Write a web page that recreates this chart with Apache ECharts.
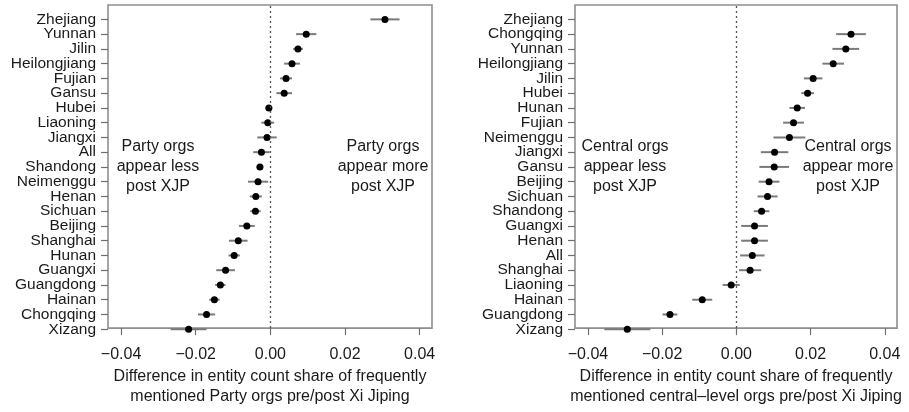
<!DOCTYPE html>
<html>
<head>
<meta charset="utf-8">
<script src="https://cdn.jsdelivr.net/npm/echarts@6/dist/echarts.min.js"></script>
<style>
  html, body { margin: 0; padding: 0; background: #fff; }
  #chart { width: 909px; height: 412px; }
</style>
</head>
<body>
<div id="chart"></div>
<script>
// Party organisations: provinces ordered top to bottom
const partyProvinces = ["Zhejiang", "Yunnan", "Jilin", "Heilongjiang", "Fujian", "Gansu", "Hubei", "Liaoning", "Jiangxi", "All", "Shandong", "Neimenggu", "Henan", "Sichuan", "Beijing", "Shanghai", "Hunan", "Guangxi", "Guangdong", "Hainan", "Chongqing", "Xizang"];
const partyDiff = [0.0307, 0.0096, 0.0074, 0.0058, 0.0042, 0.0037, -0.0004, -0.0007, -0.0009, -0.0024, -0.0028, -0.0033, -0.0039, -0.0040, -0.0063, -0.0086, -0.0097, -0.0120, -0.0134, -0.0150, -0.0171, -0.0219];
const partyErr = [0.0039, 0.0027, 0.0013, 0.0021, 0.0016, 0.0021, 0.0009, 0.0017, 0.0026, 0.0022, 0.0009, 0.0027, 0.0016, 0.0014, 0.0021, 0.0025, 0.0015, 0.0025, 0.0014, 0.0014, 0.0023, 0.0048];

// Central-level organisations (no estimate for Zhejiang)
const centralProvinces = ["Zhejiang", "Chongqing", "Yunnan", "Heilongjiang", "Jilin", "Hubei", "Hunan", "Fujian", "Neimenggu", "Jiangxi", "Gansu", "Beijing", "Sichuan", "Shandong", "Guangxi", "Henan", "All", "Shanghai", "Liaoning", "Hainan", "Guangdong", "Xizang"];
const centralDiff = [null, 0.0309, 0.0295, 0.0261, 0.0207, 0.0192, 0.0164, 0.0154, 0.0143, 0.0103, 0.0102, 0.0088, 0.0084, 0.0068, 0.0049, 0.0049, 0.0043, 0.0037, -0.0014, -0.0092, -0.0179, -0.0294];
const centralErr = [null, 0.0040, 0.0036, 0.0029, 0.0025, 0.0017, 0.0021, 0.0028, 0.0043, 0.0037, 0.0040, 0.0028, 0.0027, 0.0021, 0.0036, 0.0036, 0.0033, 0.0030, 0.0023, 0.0027, 0.0020, 0.0062];

const xTicks = [-0.04, -0.02, 0.00, 0.02, 0.04];
const xTitles = [
  "Difference in entity count share of frequently\nmentioned Party orgs pre/post Xi Jiping",
  "Difference in entity count share of frequently\nmentioned central\u2013level orgs pre/post Xi Jiping"
];

const FONT = '"Liberation Sans", Arial, Helvetica, sans-serif';
const TEXT = '#1a1a1a';
const TICK = { color: '#6e6e6e', width: 1.2 };
const X_MIN = -0.0435, X_MAX = 0.0433;

// Panel frames and the inner band holding one row per province
const PANELS = [{ left: 108, width: 324 }, { left: 575, width: 322 }];
const FRAME_TOP = 5, FRAME_H = 335;
const BAND_TOP = 12, BAND_H = 324.6;

function fmtTick(v) {
  const s = Math.abs(v).toFixed(2);
  return v < -1e-9 ? '\u2212' + s : s;
}

const grids = [], xAxes = [], yAxes = [];
PANELS.forEach((p, gi) => {
  // frame: border, x ticks, x labels, axis title, zero reference line
  grids.push({ left: p.left, top: FRAME_TOP, width: p.width, height: FRAME_H, show: true,
               borderColor: '#8f8f8f', borderWidth: 1.6 });
  xAxes.push({
    type: 'value', gridIndex: gi, min: X_MIN, max: X_MAX, position: 'bottom',
    axisLine: { show: false, onZero: false },
    splitLine: { show: false },
    axisTick: { show: true, length: 7, customValues: xTicks, lineStyle: TICK },
    axisLabel: { customValues: xTicks, formatter: fmtTick, fontFamily: FONT, fontSize: 16, color: TEXT, margin: 18,
                 showMinLabel: true, showMaxLabel: true },
    name: xTitles[gi], nameLocation: 'middle', nameGap: 36,
    nameTextStyle: { fontFamily: FONT, fontSize: 16, color: TEXT, lineHeight: 20, verticalAlign: 'top' }
  });
  yAxes.push({
    type: 'value', gridIndex: gi, min: 0, max: 1, show: false
  });
});
[partyProvinces, centralProvinces].forEach((cats, k) => {
  // rows: one category band per province
  const p = PANELS[k], gi = 2 + k;
  grids.push({ left: p.left, top: BAND_TOP, width: p.width, height: BAND_H, show: false });
  xAxes.push({ type: 'value', gridIndex: gi, show: false, min: X_MIN, max: X_MAX });
  yAxes.push({
    type: 'category', gridIndex: gi, data: cats, inverse: true, boundaryGap: true,
    axisLine: { show: false, onZero: false },
    axisTick: { show: true, length: 7, alignWithLabel: true, interval: 0, lineStyle: TICK },
    axisLabel: { interval: 0, fontFamily: FONT, fontSize: 15.5, color: TEXT, margin: 12 },
    splitLine: { show: false }
  });
});

function pointsData(vals, errs) {
  const out = [];
  vals.forEach((v, i) => { if (v !== null) out.push([v, i, errs[i]]); });
  return out;
}

function errorBars(gi, vals, errs) {
  return {
    type: 'custom', xAxisIndex: gi, yAxisIndex: gi, z: 2,
    data: pointsData(vals, errs),
    renderItem: (params, api) => {
      const v = api.value(0), i = api.value(1), e = api.value(2);
      const a = api.coord([v - e, i]);
      const b = api.coord([v + e, i]);
      return { type: 'line', shape: { x1: a[0], y1: a[1], x2: b[0], y2: b[1] },
               style: { stroke: '#7a7a7a', lineWidth: 2 } };
    },
    silent: true
  };
}

function points(gi, vals, errs) {
  return {
    type: 'scatter', xAxisIndex: gi, yAxisIndex: gi, z: 3,
    data: pointsData(vals, errs),
    symbol: 'circle', symbolSize: 7,
    itemStyle: { color: '#000', opacity: 1 },
    silent: true
  };
}

function zeroLine(gi) {
  return {
    type: 'scatter', xAxisIndex: gi, yAxisIndex: gi, z: 1, data: [], silent: true,
    markLine: {
      silent: true, symbol: 'none',
      label: { show: false },
      lineStyle: { type: [2, 3], color: '#555', width: 1.3 },
      data: [{ xAxis: 0 }]
    }
  };
}

function note(cx, top, lines) {
  return { type: 'text', x: cx, y: top, z: 10,
    style: { text: lines.join('\n'), fontFamily: FONT, fontSize: 16, lineHeight: 20, fill: TEXT,
             align: 'center', verticalAlign: 'top' } };
}

const chart = echarts.init(document.getElementById('chart'), null, { renderer: 'canvas' });
chart.setOption({
  animation: false,
  backgroundColor: '#fff',
  grid: grids,
  xAxis: xAxes,
  yAxis: yAxes,
  series: [
    zeroLine(0), zeroLine(1),
    errorBars(2, partyDiff, partyErr), points(2, partyDiff, partyErr),
    errorBars(3, centralDiff, centralErr), points(3, centralDiff, centralErr)
  ],
  graphic: [
    note(158, 137, ['Party orgs', 'appear less', 'post XJP']),
    note(383, 137, ['Party orgs', 'appear more', 'post XJP']),
    note(625, 137, ['Central orgs', 'appear less', 'post XJP']),
    note(848, 137, ['Central orgs', 'appear more', 'post XJP'])
  ]
});
</script>
</body>
</html>
